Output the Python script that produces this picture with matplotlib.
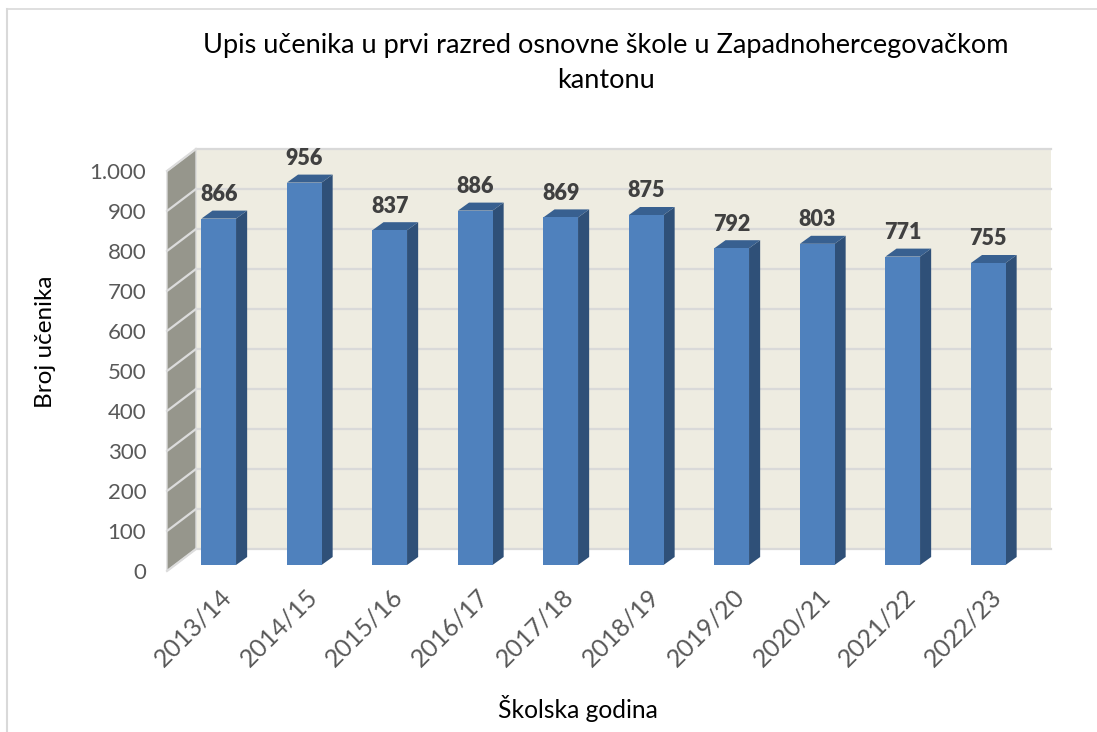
import matplotlib
matplotlib.use('Agg')
import matplotlib.pyplot as plt
from matplotlib.patches import Polygon, Rectangle
from matplotlib.transforms import ScaledTranslation

godine = ['2013/14', '2014/15', '2015/16', '2016/17', '2017/18',
          '2018/19', '2019/20', '2020/21', '2021/22', '2022/23']
upisi = [866, 956, 837, 886, 869, 875, 792, 803, 771, 755]
y_ticks = [0, 100, 200, 300, 400, 500, 600, 700, 800, 900, 1000]
y_labels = ['0', '100', '200', '300', '400', '500', '600', '700', '800', '900', '1.000']

plt.rcParams['font.family'] = ['Lato', 'DejaVu Sans']

W, H = 1097, 732
fig = plt.figure(figsize=(W / 100, H / 100), dpi=100)
# axes = front plane of the fake 3d box
ax = fig.add_axes([167 / W, 1 - 571 / H, 855 / W, 400 / H])
ax.set_xlim(-0.5, 9.5)
ax.set_ylim(0, 1000)
for s in ax.spines.values():
    s.set_visible(False)
ax.patch.set_visible(False)

# depth offsets in data units
wall_dx, wall_dy = 0.339, 55
bar_ox, bar_oy = 0.105, 15
bar_dx, bar_dy = 0.13, 20
bar_w = 0.405

x0, x1 = -0.5, 9.5
grid = '#d9d9d9'
ax.add_patch(Rectangle((x0 + wall_dx, wall_dy), x1 - x0, 1000, fc='#eeece1', ec='none', zorder=1, clip_on=False))
ax.add_patch(Polygon([(x0, 0), (x0 + wall_dx, wall_dy), (x0 + wall_dx, 1000 + wall_dy), (x0, 1000)],
                     fc='#96968c', ec='#d9d9d9', lw=1, zorder=1, clip_on=False))
for t in y_ticks:
    ax.plot([x0 + wall_dx, x1 + wall_dx], [t + wall_dy, t + wall_dy], color=grid, lw=1.6, zorder=2, clip_on=False)
    ax.plot([x0, x0 + wall_dx], [t, t + wall_dy], color='#dcdcdc', lw=1.6, zorder=2, clip_on=False)

for i, v in enumerate(upisi):
    l = i - bar_w / 2 + bar_ox
    r = i + bar_w / 2 + bar_ox
    b = bar_oy
    t = v + bar_oy
    ax.bar(l, v, width=bar_w, bottom=b, align='edge', color='#4f81bd', edgecolor='none', zorder=5)
    ax.add_patch(Polygon([(r, b), (r + bar_dx, b + bar_dy), (r + bar_dx, t + bar_dy), (r, t)],
                         fc='#2f5078', ec='none', zorder=4, clip_on=False))
    ax.add_patch(Polygon([(l, t), (l + bar_dx, t + bar_dy), (r + bar_dx, t + bar_dy), (r, t)],
                         fc='#386090', ec='none', zorder=4, clip_on=False))
    ax.text(i + bar_ox, t + bar_dy + 14, str(v), ha='center', va='bottom', fontsize=15.5,
            fontweight='heavy', color='#404040', zorder=6)

ax.set_yticks(y_ticks)
ax.set_yticklabels(y_labels, fontsize=16, color='#595959')
ax.set_xticks(range(len(godine)))
ax.set_xticklabels(godine, fontsize=18, color='#595959', rotation=45, ha='right', rotation_mode='anchor')
ax.tick_params(axis='both', length=0)
ax.tick_params(axis='y', pad=15)
ax.tick_params(axis='x', pad=10)
# rotated labels sit a bit right of the category centre
for lab in ax.get_xticklabels():
    lab.set_transform(lab.get_transform() + ScaledTranslation(10 / 100, 0, fig.dpi_scale_trans))

fig.text(606 / W, 1 - 45 / H, 'Upis učenika u prvi razred osnovne škole u Zapadnohercegovačkom',
         ha='center', va='center', fontsize=19.5, color='#000000')
fig.text(606 / W, 1 - 80 / H, 'kantonu', ha='center', va='center', fontsize=19.5, color='#000000')
fig.text(578 / W, 1 - 708 / H, 'Školska godina', ha='center', va='center', fontsize=17.7, color='#000000')
fig.text(46 / W, 1 - 342 / H, 'Broj učenika', ha='center', va='center', rotation=90, fontsize=17.5, color='#000000')

# frame of the pasted chart
fig.add_artist(plt.Line2D([7 / W, 7 / W], [0, 1 - 9 / H], color='#d9d9d9', lw=1.5))
fig.add_artist(plt.Line2D([7 / W, 1], [1 - 9 / H, 1 - 9 / H], color='#d9d9d9', lw=1.2))

fig.savefig('out.png', dpi=100)
